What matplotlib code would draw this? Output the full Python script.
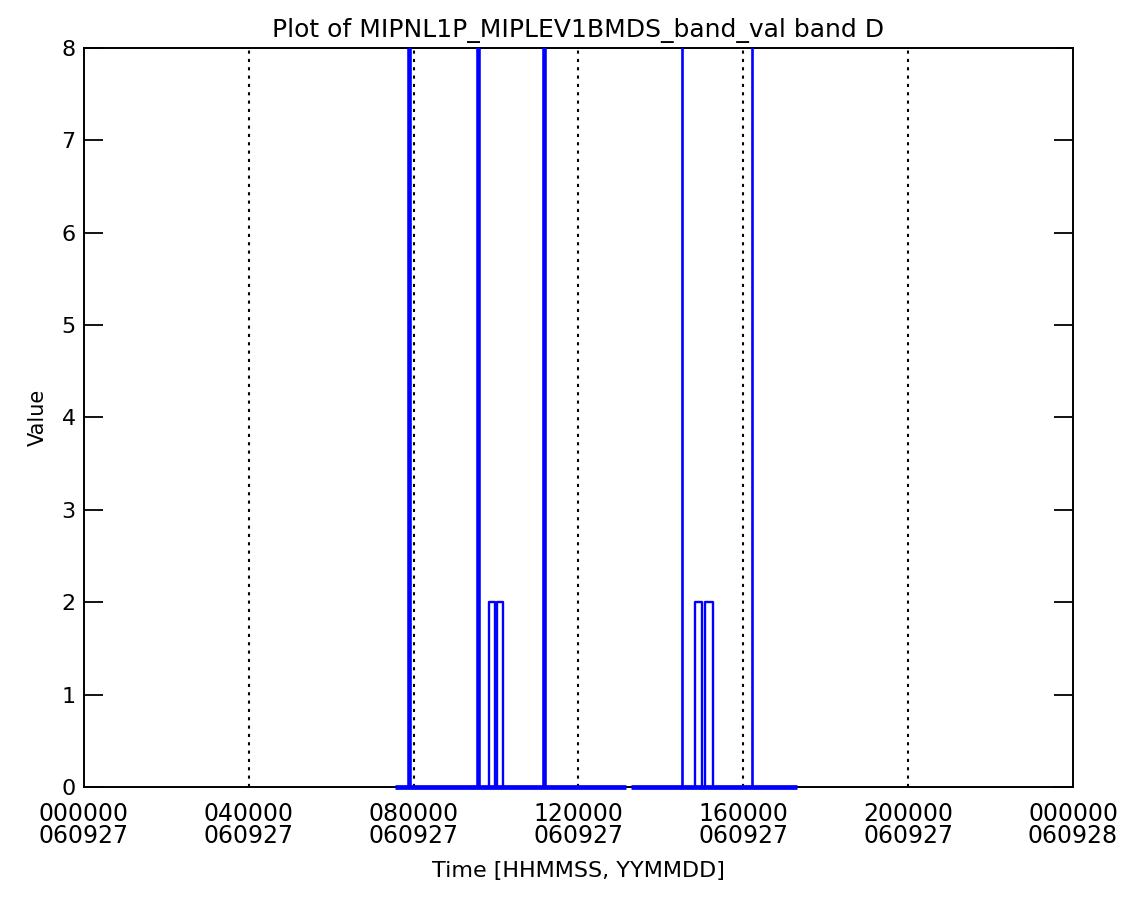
import matplotlib
matplotlib.use("Agg")
import matplotlib.pyplot as plt
import numpy as np

# time in hours since 000000 060927
tick_hours = [0, 4, 8, 12, 16, 20, 24]
tick_labels = ["000000\n060927", "040000\n060927", "080000\n060927", "120000\n060927",
               "160000\n060927", "200000\n060927", "000000\n060928"]
grid_hours = [4, 8, 12, 16, 20]

# baseline (value 0) stretches where data exist
base_start = [7.55, 13.28]
base_end = [13.15, 17.3]

# full height spikes (value 8)
thick_spikes = [7.88, 9.56, 11.17]
thin_spikes = [14.5, 16.2]
spike_val = 8

# small pulses of value 2
pulse_start = [9.83, 10.02, 14.83, 15.07]
pulse_end = [9.98, 10.17, 15.0, 15.27]
pulse_val = 2

blue = "#0000ff"

fig = plt.figure(figsize=(11.29, 9.10), dpi=100)
ax = fig.add_axes([0.0744, 0.1352, 0.876, 0.8121])

for h in grid_hours:
    ax.plot([h, h], [0, 8], color="black", lw=1.5, ls=(0, (1.5, 2.5)), zorder=1)

for a, b in zip(base_start, base_end):
    ax.plot([a, b], [0, 0], color=blue, lw=3.4, solid_capstyle="butt", zorder=3, clip_on=False)

for s in thick_spikes:
    ax.plot([s, s], [0, spike_val], color=blue, lw=3.3, zorder=3)
for s in thin_spikes:
    ax.plot([s, s], [0, spike_val], color=blue, lw=1.9, zorder=3)

for a, b in zip(pulse_start, pulse_end):
    ax.plot([a, a, b, b], [0, pulse_val, pulse_val, 0], color=blue, lw=1.7, zorder=3)

ax.set_xlim(0, 24)
ax.set_ylim(0, 8)
ax.set_xticks(tick_hours)
ax.set_xticklabels(tick_labels, fontsize=17, linespacing=0.9)
ax.set_yticks(range(0, 9))
ax.tick_params(axis="x", length=0, pad=11)
ax.tick_params(axis="y", direction="in", length=14, width=1.3, right=True, labelsize=16, pad=6)

for sp in ax.spines.values():
    sp.set_linewidth(1.4)

ax.set_title("Plot of MIPNL1P_MIPLEV1BMDS_band_val band D", fontsize=18, pad=8)
ax.set_xlabel("Time [HHMMSS, YYMMDD]", fontsize=16, labelpad=9)
ax.set_ylabel("Value", fontsize=15, labelpad=10)

fig.savefig("out.png", dpi=100)
